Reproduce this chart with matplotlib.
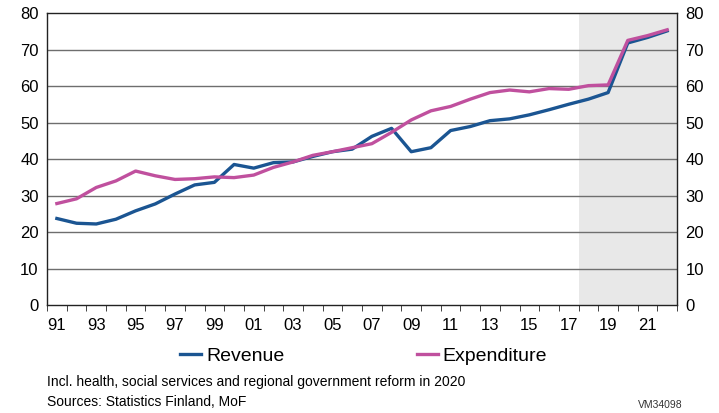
import numpy as np
import matplotlib
matplotlib.use("Agg")
import matplotlib.pyplot as plt
from matplotlib.ticker import FixedLocator, NullFormatter

plt.rcParams["font.family"] = ["Liberation Sans", "DejaVu Sans"]

# ---- data ----
years = list(range(1991, 2023))
revenue = [23.7, 22.4, 22.2, 23.5, 25.8, 27.7, 30.4, 32.9, 33.6, 38.5,
           37.5, 39.0, 39.2, 40.7, 42.0, 42.7, 46.2, 48.4, 42.0, 43.1,
           47.8, 48.9, 50.5, 51.0, 52.1, 53.5, 55.0, 56.4, 58.2, 71.8,
           73.3, 75.1]
expenditure = [27.8, 29.1, 32.2, 34.0, 36.7, 35.4, 34.4, 34.6, 35.1, 34.9,
               35.6, 37.7, 39.2, 41.0, 42.0, 43.1, 44.2, 47.3, 50.7, 53.2,
               54.4, 56.4, 58.2, 58.9, 58.4, 59.3, 59.1, 60.1, 60.3, 72.5,
               73.8, 75.4]
forecast_from = 2018
y_ticks = [0, 10, 20, 30, 40, 50, 60, 70, 80]

REV_COLOR = "#1b5592"
EXP_COLOR = "#c0509e"
GRID_COLOR = "#6e6e6e"

fig = plt.figure(figsize=(7.19, 4.13), dpi=100)
ax = fig.add_axes([0.0654, 0.2615, 0.8762, 0.707])

x = np.arange(len(years))
start = years.index(forecast_from)
ax.axvspan(start - 0.5, len(years) - 0.5, color="#e8e8e8", zorder=0, lw=0)

for yv in y_ticks[1:-1]:
    ax.axhline(yv, color=GRID_COLOR, lw=1.0, zorder=1)

l_rev, = ax.plot(x, revenue, color=REV_COLOR, lw=2.4, label="Revenue", zorder=3)
l_exp, = ax.plot(x, expenditure, color=EXP_COLOR, lw=2.4, label="Expenditure", zorder=4)

ax.set_xlim(-0.5, len(years) - 0.5)
ax.set_ylim(0, 80)

for s in ax.spines.values():
    s.set_color("#222222")
    s.set_linewidth(1.0)

# x: tick marks on category borders, labels every other year
ax.xaxis.set_minor_locator(FixedLocator(np.arange(-0.5, len(years), 1.0)))
ax.xaxis.set_minor_formatter(NullFormatter())
ax.set_xticks(x[::2])
ax.set_xticklabels([f"{y % 100:02d}" for y in years[::2]])
ax.tick_params(axis="x", which="major", length=0, pad=9, labelsize=12)
ax.tick_params(axis="x", which="minor", length=4, direction="out", color="#222222")

ax.set_yticks(y_ticks)
ax.tick_params(axis="y", length=0, pad=6, labelsize=12,
               labelleft=True, labelright=True)

fig.legend(handles=[l_rev, l_exp], loc="center", ncol=2,
           bbox_to_anchor=(0.5056, 0.138), frameon=False, fontsize=14,
           handlelength=1.1, handletextpad=0.25, columnspacing=6.8)

fig.text(0.0654, 0.075, "Incl. health, social services and regional government reform in 2020",
         fontsize=10, va="center")
fig.text(0.0654, 0.027, "Sources: Statistics Finland, MoF", fontsize=10, va="center")
fig.text(0.95, 0.019, "VM34098", fontsize=7.5, va="center", ha="right", color="#333333")

fig.savefig("out.png", dpi=100)
